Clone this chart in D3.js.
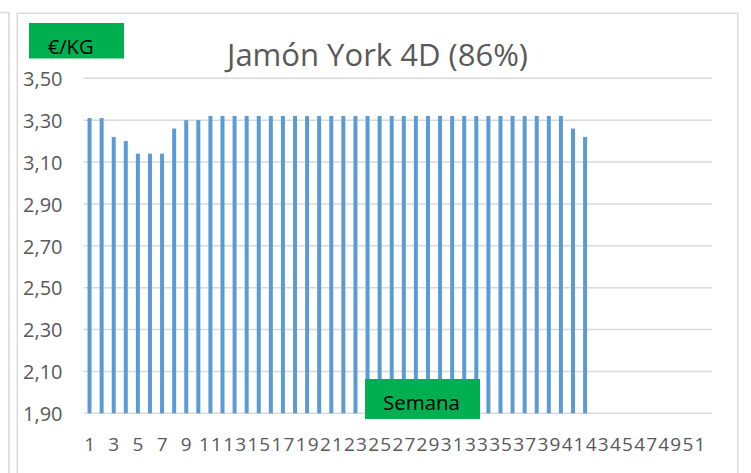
<!DOCTYPE html>
<html>
<head>
<meta charset="utf-8">
<script src="https://cdn.jsdelivr.net/npm/d3@7/dist/d3.min.js"></script>
<style>
  html, body { margin: 0; padding: 0; background: #fff; }
  svg { display: block; }
  text { font-family: "Open Sans", Lato, sans-serif; }
</style>
</head>
<body>
<script>
// ---- data ----
const title = "Jamón York 4D (86%)";
const yUnitLabel = "€/KG";
const xAxisLabel = "Semana";
const weeks = d3.range(1, 53);           // categories 1..52
const prices = [
  3.31, 3.31, 3.22, 3.20, 3.14, 3.14, 3.14, 3.26, 3.30, 3.30,
  3.32, 3.32, 3.32, 3.32, 3.32, 3.32, 3.32, 3.32, 3.32, 3.32,
  3.32, 3.32, 3.32, 3.32, 3.32, 3.32, 3.32, 3.32, 3.32, 3.32,
  3.32, 3.32, 3.32, 3.32, 3.32, 3.32, 3.32, 3.32, 3.32, 3.32,
  3.26, 3.22
];
const yTicks = [1.9, 2.1, 2.3, 2.5, 2.7, 2.9, 3.1, 3.3, 3.5];
const xTickLabels = weeks.filter(w => w % 2 === 1);

// ---- layout ----
const W = 751, H = 473;
const plot = { left: 83.5, right: 712, top: 78.3, bottom: 413.3 };

const svg = d3.select("body").append("svg").attr("width", W).attr("height", H);

// neighbouring chart border (left) and chart area border
svg.append("path").attr("d", "M0,12.5 H9 V473").attr("fill", "none")
  .attr("stroke", "#D9D9D9").attr("stroke-width", 1.5);
svg.append("rect").attr("x", 17.3).attr("y", 13.3).attr("width", 720.5).attr("height", 470)
  .attr("fill", "#fff").attr("stroke", "#D9D9D9").attr("stroke-width", 1.5);

const x = d3.scaleBand().domain(weeks).range([plot.left, plot.right]).paddingInner(0.67).paddingOuter(0.335);
const y = d3.scaleLinear().domain([1.9, 3.5]).range([plot.bottom, plot.top]);

// gridlines
svg.append("g").selectAll("line").data(yTicks).join("line")
  .attr("x1", plot.left).attr("x2", plot.right)
  .attr("y1", d => y(d)).attr("y2", d => y(d))
  .attr("stroke", "#D9D9D9").attr("stroke-width", 1.5);

// bars
svg.append("g").selectAll("rect").data(prices).join("rect")
  .attr("x", (d, i) => x(weeks[i]))
  .attr("width", x.bandwidth())
  .attr("y", d => y(d))
  .attr("height", d => y(1.9) - y(d))
  .attr("fill", "#5B9BD5");

// fit helper
function fit(sel, target) {
  const w = sel.node().getComputedTextLength();
  const fs = parseFloat(sel.style("font-size"));
  const nfs = fs * target / w;
  sel.style("font-size", nfs + "px");
  return nfs;
}

// y axis labels
const fmt = d => d.toFixed(2).replace(".", ",");
const yAxis = d3.axisLeft(y).tickValues(yTicks).tickFormat(fmt).tickSize(0).tickPadding(0);
const gy = svg.append("g").attr("transform", `translate(62.5,0)`).call(yAxis);
gy.select(".domain").remove();
gy.selectAll("text").attr("fill", "#595959").style("font-size", "18.5px")
  .style("font-family", "'Open Sans', Lato, sans-serif").attr("dy", "0.36em");
const yfs = fit(gy.select("text"), 39.5);
gy.selectAll("text").style("font-size", yfs + "px");

// x axis labels
const xAxis = d3.axisBottom(x).tickValues(xTickLabels).tickSize(0).tickPadding(0);
const gx = svg.append("g").attr("transform", `translate(0,437)`).call(xAxis);
gx.select(".domain").remove();
gx.selectAll("text").attr("fill", "#595959").style("font-size", "19px")
  .style("font-family", "'Open Sans', Lato, sans-serif").attr("dy", "0.71em")
  .attr("dx", "0.6")
  .style("letter-spacing", "1.1px");

// title
const t = svg.append("text").attr("x", 377.5).attr("y", 66).attr("text-anchor", "middle")
  .attr("fill", "#595959").style("font-size", "30px").text(title);
fit(t, 301);

// green label boxes
svg.append("rect").attr("x", 29).attr("y", 23).attr("width", 95).attr("height", 35.5).attr("fill", "#00B050");
const u = svg.append("text").attr("x", 47.7).attr("y", 54.3).attr("fill", "#000")
  .style("font-size", "18px").text(yUnitLabel);
fit(u, 46);

svg.append("rect").attr("x", 365).attr("y", 379).attr("width", 115).attr("height", 40).attr("fill", "#00B050");
const s = svg.append("text").attr("x", 383).attr("y", 410).attr("fill", "#000")
  .style("font-size", "20px").text(xAxisLabel);
fit(s, 77);
</script>
</body>
</html>
